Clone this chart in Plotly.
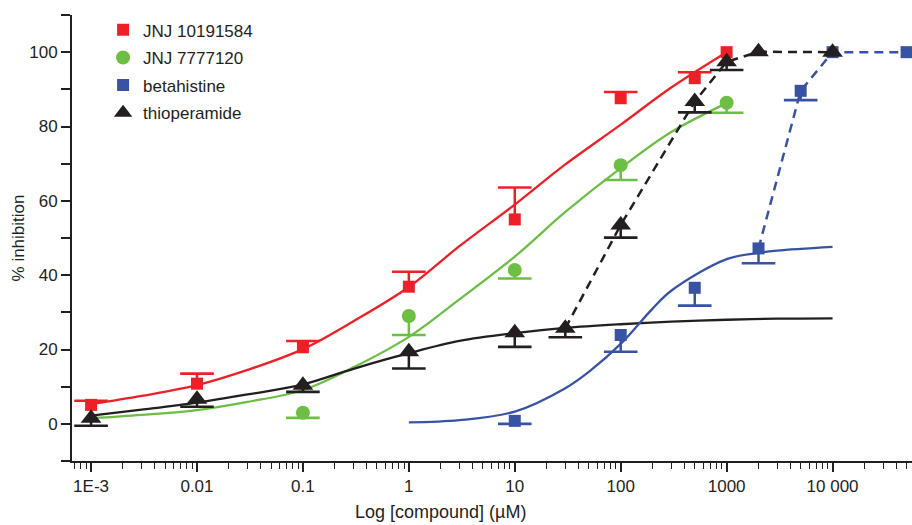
import plotly.graph_objects as go

# ---------------- data ----------------
# measured points (one-sided SEM bars)
jnj101_x = [0.001, 0.01, 0.1, 1, 10, 100, 500, 1000]
jnj101_y = [5.1, 10.8, 20.6, 36.9, 55.0, 87.6, 93.0, 100.0]
jnj101_err_up = [1.1, 2.7, 1.7, 4.0, 8.6, 1.7, 1.6, 0.0]

jnj777_x = [0.1, 1, 10, 100, 1000]
jnj777_y = [3.0, 29.0, 41.4, 69.6, 86.4]
jnj777_err_dn = [1.4, 5.1, 2.3, 4.0, 2.7]

beta_x = [10, 100, 500, 2000, 5000, 10000, 50000]
beta_y = [0.8, 23.9, 36.6, 47.2, 89.6, 100.0, 100.0]
beta_err_dn = [0.8, 4.5, 4.8, 4.0, 2.5, 0.0, 0.0]

thio_x = [0.001, 0.01, 0.1, 1, 10, 30, 100, 500, 1000, 2000, 10000]
thio_y = [1.5, 6.6, 10.4, 19.4, 24.5, 25.7, 53.5, 86.7, 97.4, 100.1, 100.0]
thio_err_dn = [2.0, 2.0, 1.8, 4.5, 3.8, 2.4, 3.4, 2.9, 2.2, 0.0, 0.0]

# fitted curves
curve_red_x = [0.001, 0.003, 0.01, 0.03, 0.1, 0.3, 1, 3, 10, 30, 100, 300, 1000]
curve_red_y = [5.3, 7.5, 10.4, 14.5, 20.1, 27.6, 36.8, 47.8, 59.0, 69.8, 80.5, 90.5, 100.0]

curve_green_x = [0.001, 0.003, 0.01, 0.03, 0.1, 0.3, 1, 3, 10, 30, 100, 300, 1000]
curve_green_y = [1.5, 2.4, 3.7, 5.9, 9.1, 15.2, 23.4, 33.5, 45.0, 57.0, 68.8, 78.5, 86.3]

curve_black_x = [0.001, 0.003, 0.01, 0.03, 0.1, 0.3, 1, 3, 10, 30, 100, 300, 1000, 3000, 10000]
curve_black_y = [2.2, 3.8, 5.7, 7.9, 10.6, 14.8, 19.0, 22.3, 24.4, 25.8, 26.8, 27.5, 28.0, 28.3, 28.4]

curve_blue_x = [1, 3, 10, 30, 50, 100, 200, 300, 1000, 2000, 3000, 10000]
curve_blue_y = [0.4, 1.0, 3.3, 9.6, 14.0, 21.5, 31.0, 35.8, 44.3, 46.0, 46.6, 47.6]

# dashed connectors
dash_black_x = [30, 100, 500, 1000, 2000, 10000]
dash_black_y = [25.7, 53.5, 86.7, 97.4, 100.1, 100.0]
dash_blue_x = [2000, 5000, 10000, 50000]
dash_blue_y = [47.2, 89.6, 100.0, 100.0]

x_tickvals = [0.001, 0.01, 0.1, 1, 10, 100, 1000, 10000]
x_ticktext = ["1E-3", "0.01", "0.1", "1", "10", "100", "1000", "10 000"]
y_tickvals = [0, 20, 40, 60, 80, 100]

RED = "#EE2027"
GREEN = "#6CBE45"
BLUE = "#3953A4"
BLACK = "#231F20"
FONT = "Liberation Sans, Arial, sans-serif"

fig = go.Figure()

# curves
for cx, cy, col in [(curve_red_x, curve_red_y, RED),
                    (curve_green_x, curve_green_y, GREEN),
                    (curve_black_x, curve_black_y, BLACK),
                    (curve_blue_x, curve_blue_y, BLUE)]:
    fig.add_trace(go.Scatter(x=cx, y=cy, mode="lines", showlegend=False,
                             line=dict(color=col, width=2.3, shape="spline", smoothing=1.0),
                             hoverinfo="skip"))

fig.add_trace(go.Scatter(x=dash_black_x, y=dash_black_y, mode="lines", showlegend=False,
                         line=dict(color=BLACK, width=2.5, dash="9px,6px")))
fig.add_trace(go.Scatter(x=dash_blue_x, y=dash_blue_y, mode="lines", showlegend=False,
                         line=dict(color=BLUE, width=2.5, dash="9px,6px")))


def add_series(name, xs, ys, errs, direction, col, symbol, size):
    up = errs if direction > 0 else [0] * len(xs)
    dn = errs if direction < 0 else [0] * len(xs)
    # caps: only at the far end of each one-sided bar
    cap_x = [x for x, e in zip(xs, errs) if e > 0]
    cap_y = [y + direction * e for y, e in zip(ys, errs) if e > 0]
    fig.add_trace(go.Scatter(x=cap_x, y=cap_y, mode="markers", showlegend=False,
                             hoverinfo="skip",
                             marker=dict(symbol="line-ew", size=24,
                                         line=dict(color=col, width=2.6))))
    fig.add_trace(go.Scatter(x=xs, y=ys, mode="markers", name=name, legendgroup=name,
                             marker=dict(symbol=symbol, size=size, color=col),
                             error_y=dict(type="data", symmetric=False, array=up,
                                          arrayminus=dn, color=col, thickness=2.5, width=0)))


add_series("JNJ 10191584", jnj101_x, jnj101_y, jnj101_err_up, +1, RED, "square", 12)
add_series("JNJ 7777120", jnj777_x, jnj777_y, jnj777_err_dn, -1, GREEN, "circle", 14)
add_series("betahistine", beta_x, beta_y, beta_err_dn, -1, BLUE, "square", 12)
add_series("thioperamide", thio_x, thio_y, thio_err_dn, -1, BLACK, "triangle-up", 18)

fig.update_layout(
    width=912, height=525,
    margin=dict(l=72, r=0, t=15, b=64),
    plot_bgcolor="white", paper_bgcolor="white",
    font=dict(family=FONT, size=17, color=BLACK),
    showlegend=True,
    legend=dict(x=0.037, y=1.006, xanchor="left", yanchor="top",
                bgcolor="rgba(0,0,0,0)", font=dict(size=17), tracegroupgap=2.5,
                itemwidth=30),
    annotations=[dict(text="Log [compound] (µM)", xref="paper", yref="paper",
                      x=0.439, y=-0.115, xanchor="center", yanchor="middle",
                      showarrow=False, font=dict(size=18, color=BLACK))],
)

fig.update_xaxes(
    type="log", range=[-3.18, 4.75],
    tickmode="array", tickvals=x_tickvals, ticktext=x_ticktext,
    ticks="outside", ticklen=9, tickwidth=1.5, tickcolor=BLACK,
    showline=True, linecolor=BLACK, linewidth=2, showgrid=False, zeroline=False,
    minor=dict(ticks="outside", ticklen=6, tickwidth=1.2, tickcolor=BLACK, dtick="D1", showgrid=False),
    tickfont=dict(size=17),
)
fig.update_yaxes(
    range=[-10, 110],
    tickmode="array", tickvals=y_tickvals,
    ticks="outside", ticklen=9, tickwidth=1.5, tickcolor=BLACK,
    showline=True, linecolor=BLACK, linewidth=2, showgrid=False, zeroline=False,
    minor=dict(ticks="outside", ticklen=9, tickwidth=1.5, tickcolor=BLACK, dtick=10, showgrid=False),
    title=dict(text="% inhibition", font=dict(size=17), standoff=0),
    tickfont=dict(size=17),
)

fig.write_html("out.html", config={"displayModeBar": False},
               post_script="document.body.style.margin='0px';")
